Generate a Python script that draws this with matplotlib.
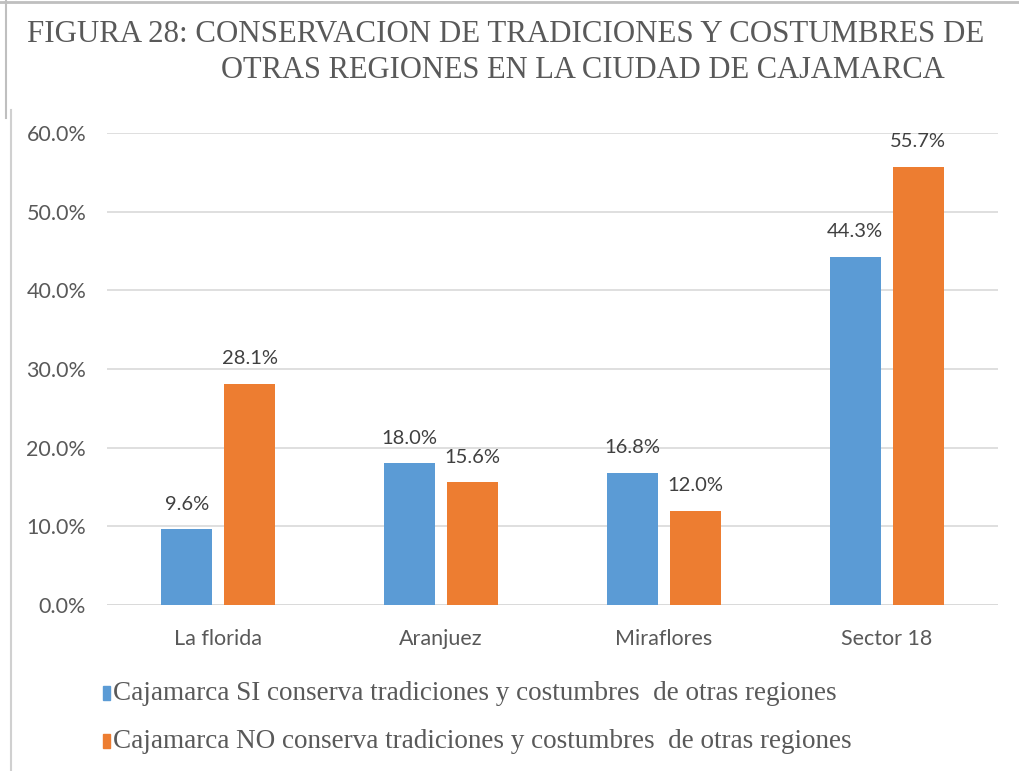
import matplotlib
matplotlib.use("Agg")
import matplotlib.pyplot as plt
from matplotlib.lines import Line2D
import numpy as np

categories = ["La florida", "Aranjuez", "Miraflores", "Sector 18"]
si_values = [9.6, 18.0, 16.8, 44.3]
no_values = [28.1, 15.6, 12.0, 55.7]
series_names = ["Cajamarca SI conserva tradiciones y costumbres  de otras regiones",
                "Cajamarca NO conserva tradiciones y costumbres  de otras regiones"]
yticks = [0, 10, 20, 30, 40, 50, 60]
title1 = "FIGURA 28: CONSERVACION DE TRADICIONES Y COSTUMBRES DE"
title2 = "OTRAS REGIONES EN LA CIUDAD DE CAJAMARCA"

BLUE = "#5B9BD5"
ORANGE = "#ED7D31"
GRAY = "#595959"
SANS = "Lato"
SERIF = "Liberation Serif"

W, H = 1020, 771
fig = plt.figure(figsize=(W / 100, H / 100), dpi=100)
fig.patch.set_facecolor("white")
ax = fig.add_axes([107 / W, (H - 605) / H, (998 - 107) / W, (605 - 133) / H])

x = np.arange(len(categories))
bw = 0.229
off = 0.1415
b1 = ax.bar(x - off, si_values, bw, color=BLUE, zorder=3)
b2 = ax.bar(x + off, no_values, bw, color=ORANGE, zorder=3)

for bars, vals in ((b1, si_values), (b2, no_values)):
    for b, v in zip(bars, vals):
        ax.annotate(f"{v:.1f}%", (b.get_x() + b.get_width() / 2, v),
                    xytext=(0, 12), textcoords="offset points",
                    ha="center", va="bottom", fontsize=14.5,
                    family=SANS, color="#404040")

ax.set_xlim(-0.5, len(categories) - 0.5)
ax.set_ylim(0, 60)
ax.set_yticks(yticks)
ax.set_yticklabels([f"{t:.1f}%" for t in yticks], family=SANS, fontsize=15.5, color=GRAY)
ax.set_xticks(x)
ax.set_xticklabels(categories, family=SANS, fontsize=15.5, color=GRAY)
ax.tick_params(axis="both", length=0)
ax.tick_params(axis="y", pad=15)
ax.tick_params(axis="x", pad=17)
ax.yaxis.grid(True, color="#D9D9D9", linewidth=1.2, zorder=0)
for s in ax.spines.values():
    s.set_visible(False)
ax.axhline(0, color="#D9D9D9", linewidth=1.2, zorder=2)

# Title
fig.text(27 / W, 1 - 42 / H, title1, family=SERIF, fontsize=22.2, color=GRAY,
         ha="left", va="baseline")
fig.text(945 / W, 1 - 78 / H, title2, family=SERIF, fontsize=22.0, color=GRAY,
         ha="right", va="baseline")

# Legend (manual)
for i, (name, col) in enumerate(zip(series_names, [BLUE, ORANGE])):
    yb = 1 - (700 + 48 * i) / H
    fig.patches.append(plt.Rectangle((103 / W, yb), 7 / W, 14 / H, color=col,
                                     transform=fig.transFigure, figure=fig))
    fig.text(113 / W, yb, name, family=SERIF, fontsize=19.5, color=GRAY,
             ha="left", va="baseline")

# Frame lines
fig.add_artist(Line2D([0, 1], [1 - 1.5 / H, 1 - 1.5 / H], color="#BFBFBF", linewidth=2,
                      transform=fig.transFigure))
fig.add_artist(Line2D([6 / W, 6 / W], [1, 1 - 118 / H], color="#BFBFBF", linewidth=1.5,
                      transform=fig.transFigure))
fig.add_artist(Line2D([11 / W, 11 / W], [1 - 110 / H, 0], color="#D0D0D0", linewidth=1.5,
                      transform=fig.transFigure))

fig.savefig("out.png", dpi=100, facecolor="white")
